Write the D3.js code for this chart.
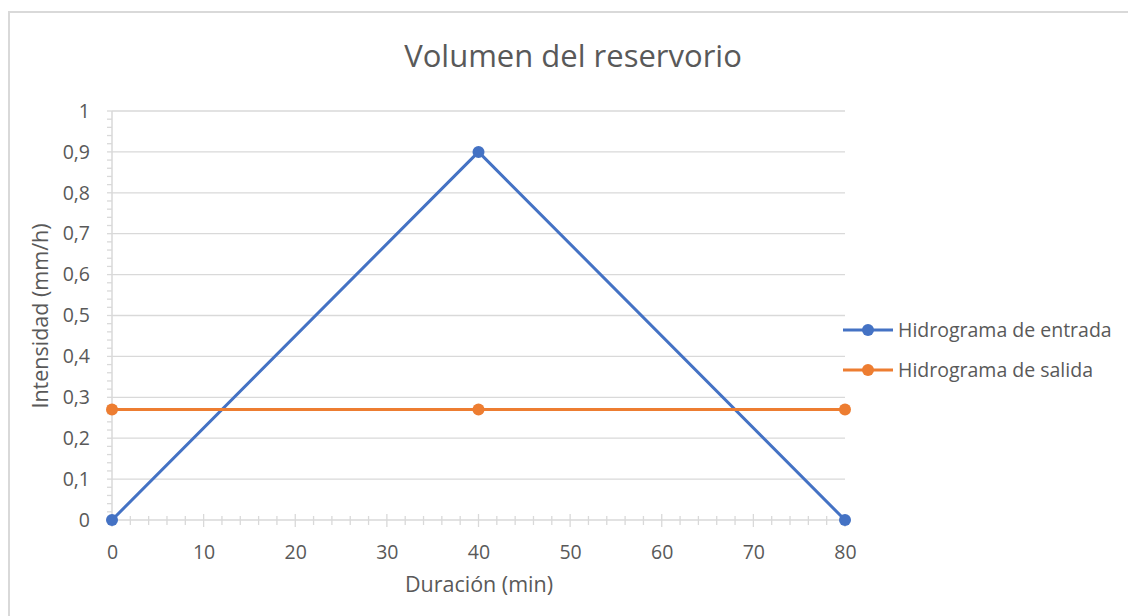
<!DOCTYPE html>
<html>
<head>
<meta charset="utf-8">
<script src="https://cdn.jsdelivr.net/npm/d3@7"></script>
<style>
  html, body { margin: 0; padding: 0; background: #fff; }
  svg { display: block; font-family: "Open Sans", "Noto Sans", sans-serif; }
</style>
</head>
<body>
<svg id="chart" width="1128" height="616"></svg>
<script>
// Duration (min) at which each hydrograph is sampled
const duracion = [0, 40, 80];
// Inflow hydrograph intensity (mm/h)
const entrada = [0, 0.9, 0];
// Outflow hydrograph intensity (mm/h)
const salida = [0.27, 0.27, 0.27];

const seriesNames = ["Hidrograma de entrada", "Hidrograma de salida"];
const seriesColors = ["#4472c4", "#ed7d31"];
const xTicks = [0, 10, 20, 30, 40, 50, 60, 70, 80];
const yTicks = [0, 0.1, 0.2, 0.3, 0.4, 0.5, 0.6, 0.7, 0.8, 0.9, 1];

const svg = d3.select("#chart");
const W = 1128, H = 616;
const textColor = "#595959";
const gridColor = "#d9d9d9";

// chart frame
svg.append("rect")
  .attr("x", 9).attr("y", 12)
  .attr("width", W + 20).attr("height", H + 20)
  .attr("fill", "#fff")
  .attr("stroke", gridColor).attr("stroke-width", 2);

const plot = { left: 112, right: 845, top: 111, bottom: 520 };

const x = d3.scaleLinear().domain([0, 80]).range([plot.left, plot.right]);
const y = d3.scaleLinear().domain([0, 1]).range([plot.bottom, plot.top]);

const fmt = d => d3.format(".1~f")(d).replace(".", ",");

// horizontal gridlines
svg.append("g")
  .selectAll("line")
  .data(yTicks.filter(d => d > 0))
  .join("line")
  .attr("x1", plot.left).attr("x2", plot.right)
  .attr("y1", d => y(d)).attr("y2", d => y(d))
  .attr("stroke", gridColor).attr("stroke-width", 1.3);

// y axis: major + minor ticks on the outside
const yMinor = d3.range(0, 51).map(i => i / 50);
const yAxisG = svg.append("g").attr("transform", `translate(${plot.left},0)`);
yAxisG.append("line")
  .attr("x1", 0).attr("x2", 0)
  .attr("y1", y(1)).attr("y2", y(0))
  .attr("stroke", gridColor).attr("stroke-width", 1.5);
yAxisG.selectAll("line.minor")
  .data(yMinor)
  .join("line").attr("class", "minor")
  .attr("x1", -5).attr("x2", 0)
  .attr("y1", d => y(d)).attr("y2", d => y(d))
  .attr("stroke", gridColor).attr("stroke-width", 1.3);

const yAxis = d3.axisLeft(y).tickValues(yTicks).tickFormat(fmt).tickSize(0).tickPadding(22);
svg.append("g")
  .attr("transform", `translate(${plot.left},0)`)
  .call(yAxis)
  .call(g => g.select(".domain").remove())
  .call(g => g.selectAll("text")
    .attr("fill", textColor).attr("font-size", 19.5)
    .attr("font-family", "\"Open Sans\", sans-serif"));

// x axis: crossing major + minor ticks
const xMinor = d3.range(0, 41).map(i => i * 2);
const xAxisG = svg.append("g").attr("transform", `translate(0,${plot.bottom})`);
xAxisG.append("line")
  .attr("x1", plot.left).attr("x2", plot.right)
  .attr("y1", 0).attr("y2", 0)
  .attr("stroke", gridColor).attr("stroke-width", 1.5);
xAxisG.selectAll("line.minor")
  .data(xMinor.filter(d => d % 10 !== 0))
  .join("line").attr("class", "minor")
  .attr("x1", d => x(d)).attr("x2", d => x(d))
  .attr("y1", -4).attr("y2", 5)
  .attr("stroke", gridColor).attr("stroke-width", 1.3);
xAxisG.selectAll("line.major")
  .data(xTicks)
  .join("line").attr("class", "major")
  .attr("x1", d => x(d)).attr("x2", d => x(d))
  .attr("y1", -6).attr("y2", 7)
  .attr("stroke", gridColor).attr("stroke-width", 1.3);

const xAxis = d3.axisBottom(x).tickValues(xTicks).tickFormat(d3.format("d")).tickSize(0).tickPadding(25);
svg.append("g")
  .attr("transform", `translate(0,${plot.bottom})`)
  .call(xAxis)
  .call(g => g.select(".domain").remove())
  .call(g => g.selectAll("text")
    .attr("fill", textColor).attr("font-size", 19.5)
    .attr("font-family", "\"Open Sans\", sans-serif"));

// series lines and markers
const line = d3.line().x(d => x(d[0])).y(d => y(d[1]));
const seriesData = [entrada, salida].map(vals => duracion.map((t, i) => [t, vals[i]]));

seriesData.forEach((pts, k) => {
  svg.append("path")
    .datum(pts)
    .attr("d", line)
    .attr("fill", "none")
    .attr("stroke", seriesColors[k])
    .attr("stroke-width", 3)
    .attr("stroke-linejoin", "round");
});
seriesData.forEach((pts, k) => {
  svg.append("g").selectAll("circle")
    .data(pts)
    .join("circle")
    .attr("cx", d => x(d[0])).attr("cy", d => y(d[1]))
    .attr("r", 6)
    .attr("fill", seriesColors[k]);
});

// title
svg.append("text")
  .attr("x", 573).attr("y", 67)
  .attr("text-anchor", "middle")
  .attr("fill", textColor)
  .attr("font-size", 31)
  .text("Volumen del reservorio");

// axis titles
svg.append("text")
  .attr("x", 479).attr("y", 592)
  .attr("text-anchor", "middle")
  .attr("fill", textColor)
  .attr("font-size", 21.5)
  .text("Duración (min)");

svg.append("text")
  .attr("transform", `translate(48,316) rotate(-90)`)
  .attr("text-anchor", "middle")
  .attr("fill", textColor)
  .attr("font-size", 21.5)
  .text("Intensidad (mm/h)");

// legend
const legend = svg.append("g");
seriesNames.forEach((name, k) => {
  const ly = 330 + k * 40;
  legend.append("line")
    .attr("x1", 843).attr("x2", 893)
    .attr("y1", ly).attr("y2", ly)
    .attr("stroke", seriesColors[k]).attr("stroke-width", 3);
  legend.append("circle")
    .attr("cx", 868).attr("cy", ly).attr("r", 6)
    .attr("fill", seriesColors[k]);
  legend.append("text")
    .attr("x", 898).attr("y", ly + 7)
    .attr("fill", textColor)
    .attr("font-size", 19.5)
    .text(name);
});
</script>
</body>
</html>
